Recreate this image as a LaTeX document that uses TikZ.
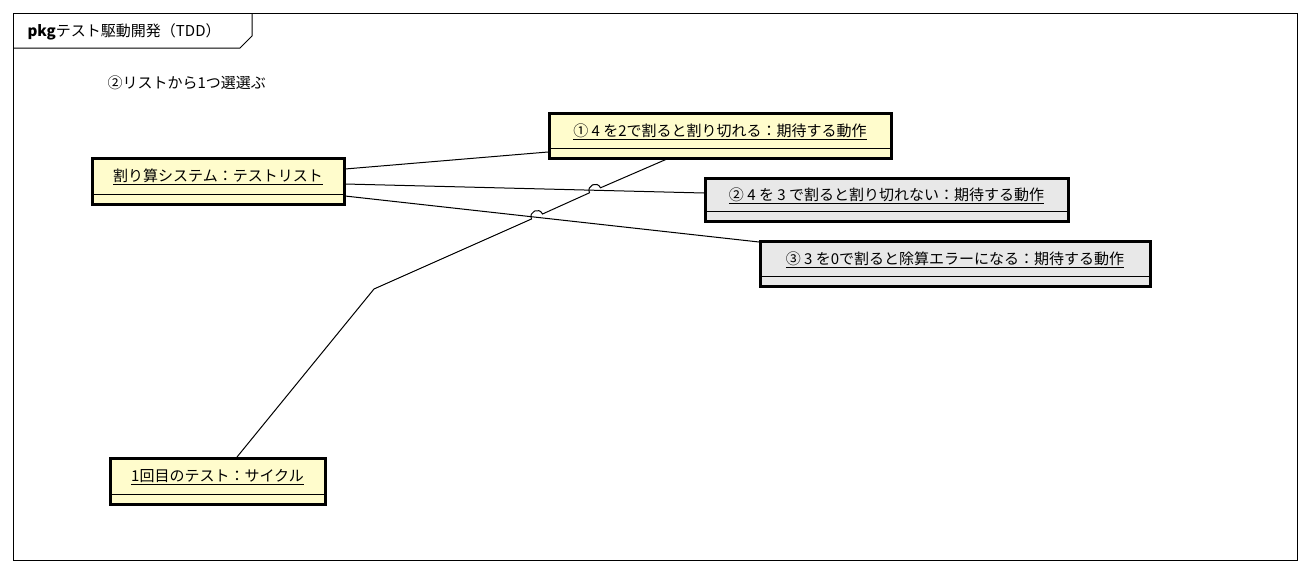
\documentclass[tikz,border=0pt]{standalone}
\usepackage{fontspec}
\setmainfont{Noto Sans CJK JP}
\begin{document}
\begin{tikzpicture}[x=1pt,y=-1pt,
  lbl/.style={font=\fontsize{15}{17}\selectfont,anchor=center},
  conn/.style={line width=1pt}]
\useasboundingbox (0,0) rectangle (1310,573);
\draw[line width=1pt] (13,13) rectangle (1297,560);
\draw[line width=1pt] (13,48) -- (240,48) -- (252,36) -- (252,13);
\node[anchor=west,font=\fontsize{15}{17}\selectfont] (title) at (24,32) {\textbf{pkg}テスト駆動開発（TDD）};
\node[anchor=west,font=\fontsize{15}{17}\selectfont] (note) at (104,83) {②リストから1つ選選ぶ};
\newcommand\objbox[8]{%
  \fill[#6] (#2,#3) rectangle (#4,#5);
  \draw[line width=1pt] (#2,#7) -- (#4,#7);
  \draw[line width=3pt] (#2,#3) rectangle (#4,#5);
  \node[lbl] (#1) at ({(#2+#4)/2},{(#3+#7)/2+1}) {\underline{#8}};}
\objbox{A}{92}{158}{344}{204}{yellow!20}{194}{割り算システム：テストリスト}
\objbox{B}{549}{113}{891}{158}{yellow!20}{148}{① 4 を2で割ると割り切れる：期待する動作}
\objbox{C}{705}{178}{1068}{221}{gray!18}{211}{② 4 を 3 で割ると割り切れない：期待する動作}
\objbox{D}{760}{241}{1150}{286}{gray!18}{276}{③ 3 を0で割ると除算エラーになる：期待する動作}
\objbox{E}{110}{458}{325}{504}{yellow!20}{494}{1回目のテスト：サイクル}
\coordinate (a1) at (345,169);
\coordinate (a2) at (345,184);
\coordinate (a3) at (345,196);
\coordinate (b1) at (548,152);
\coordinate (c1) at (704,193);
\coordinate (d1) at (759,242);
\coordinate (e1) at (237,457);
\coordinate (bend) at (374,289);
\coordinate (b2) at (667,159);
\draw[conn] (a1) -- (b1);
\draw[conn] (a2) -- (c1);
\draw[conn] (a3) -- (d1);
\draw[conn] (e1) -- (bend) -- (531.5,219.0) .. controls (528.2,211.7) and (539.2,206.7) .. (542.5,214.0)
  -- (589.5,192.8) .. controls (586.2,185.5) and (597.2,180.5) .. (600.5,187.8) -- (b2);
\end{tikzpicture}
\end{document}
